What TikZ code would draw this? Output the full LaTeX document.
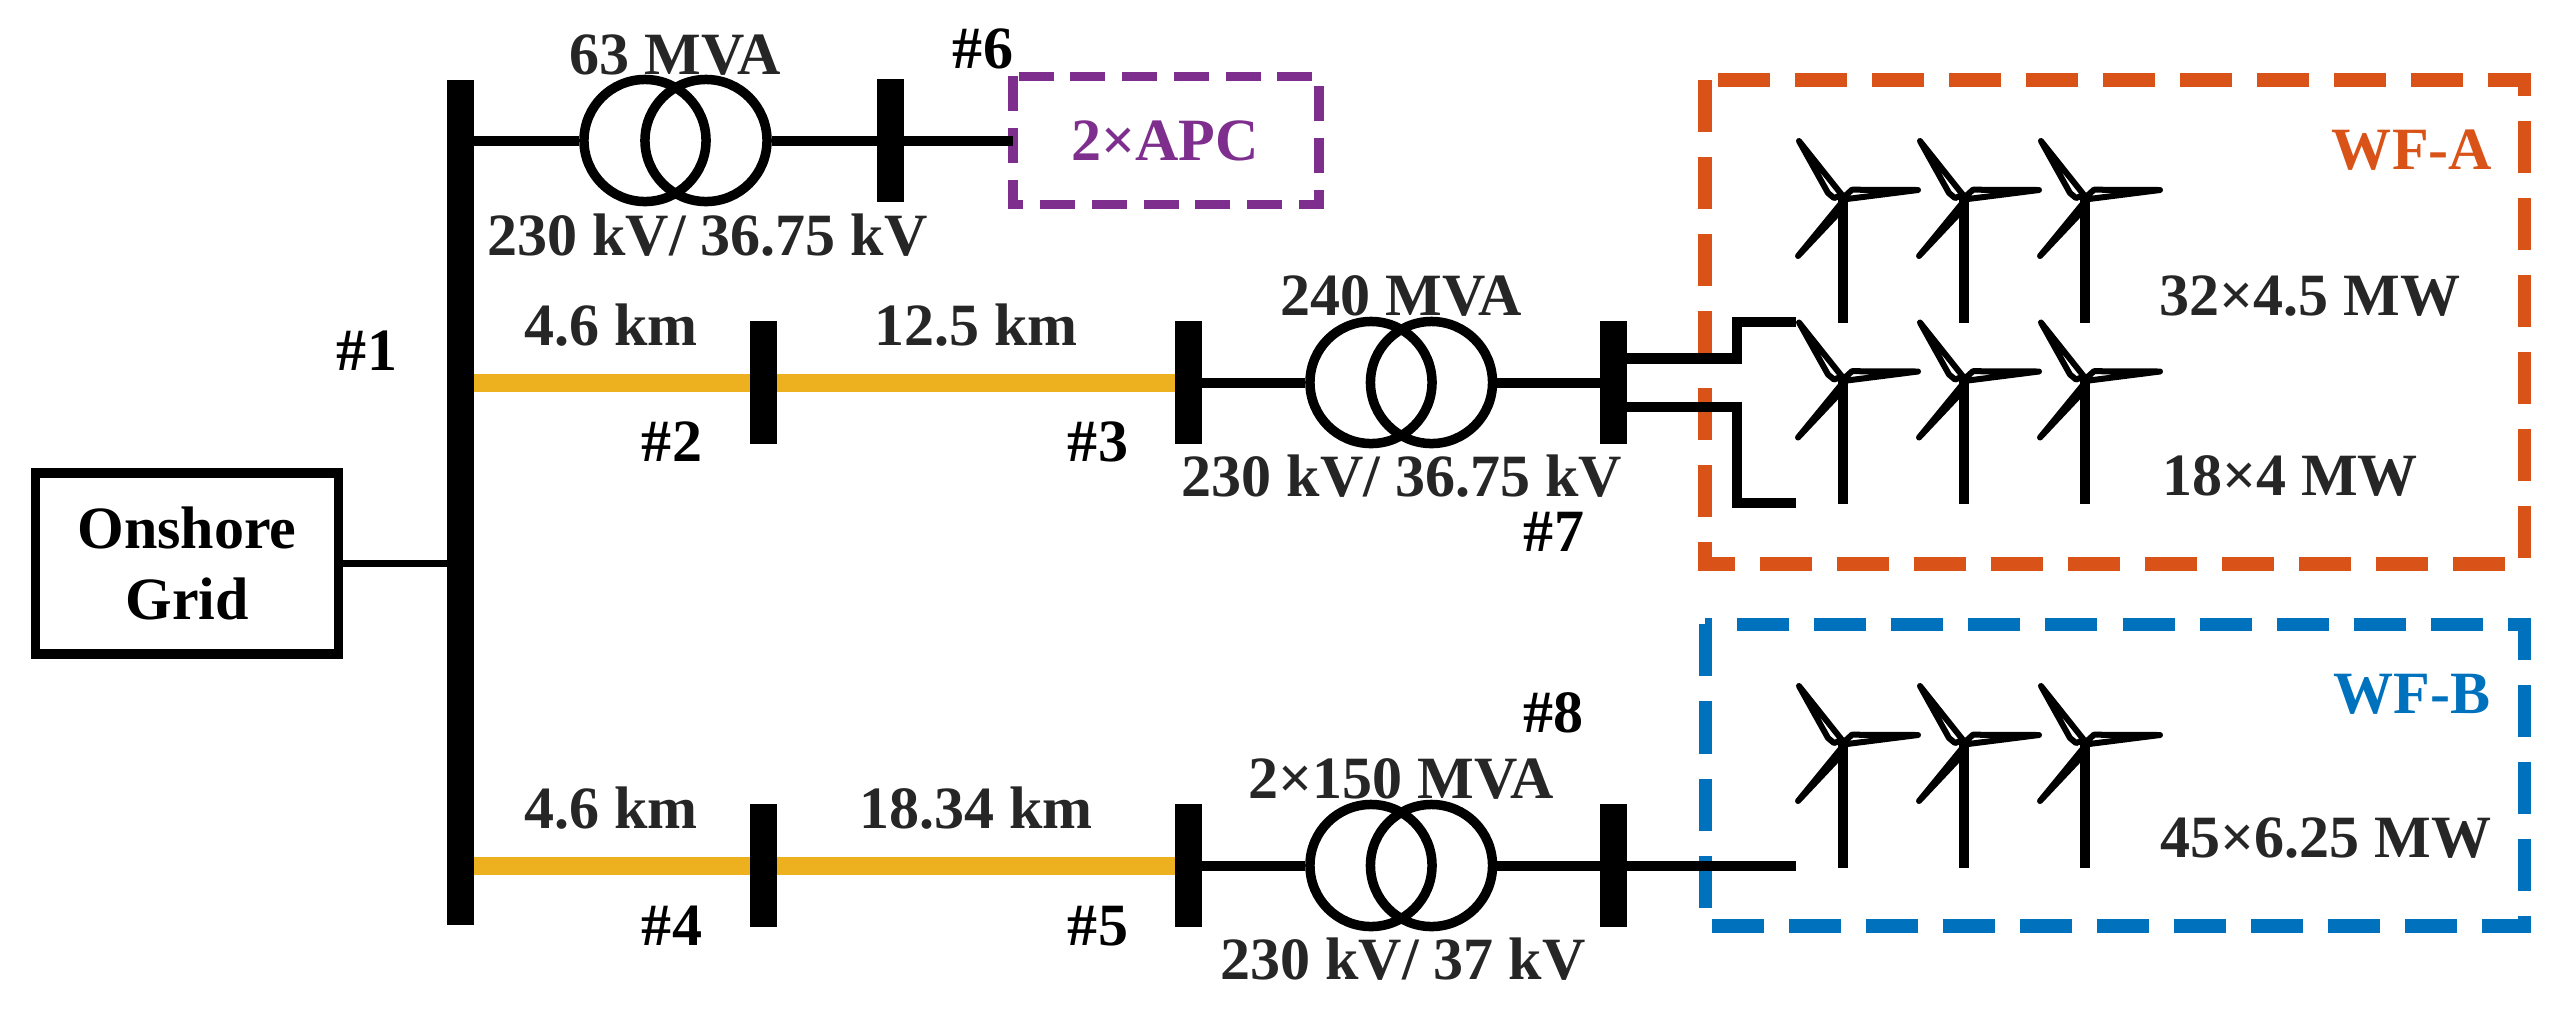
\documentclass[tikz,border=0pt]{standalone}
\usepackage{fontspec}
\usepackage{xcolor}
\setmainfont{Liberation Serif}
\definecolor{CableYellow}{RGB}{237,177,32}
\definecolor{WfOrange}{RGB}{217,83,25}
\definecolor{WfBlue}{RGB}{0,114,189}
\definecolor{ApcPurple}{RGB}{126,47,142}
\definecolor{LabelGray}{RGB}{38,38,38}
\tikzset{
  lbl/.style     = {anchor=base, inner sep=0pt, text=LabelGray,
                    font=\fontsize{17.07}{20.2}\selectfont\bfseries},
  busid/.style   = {lbl, text=black},
  busbar/.style  = {fill=black, inner sep=0pt, outer sep=0pt, minimum width=0.27cm, minimum height=1.22cm},
  tfcoil/.style  = {draw, circle, line width=0.095cm, inner sep=0pt, minimum size=1.22cm},
  feeder/.style  = {line width=0.1cm},
  cable/.style   = {line width=0.18cm, CableYellow},
  area/.style    = {inner sep=0pt, outer sep=0pt},
  wfline/.style  = {line width=0.135cm, dash pattern=on 0.52cm off 0.25cm},
  apcline/.style = {line width=0.095cm, dash pattern=on 0.35cm off 0.167cm, ApcPurple},
  pics/turbine/.style = {code={
    \draw[line width=0.093cm] (0,-2) -- (0,124.5);
    \draw[line width=0.06cm, line join=round, fill=white]
      (-1,-3) -- (-44,-57) -- (-15,-5) -- (-9,0) -- cycle
      (0,1.5) -- (75,-8) -- (9,-8.3) -- (2,-2) -- cycle
      (0,3) -- (-45,58) -- (-4.5,15) -- cycle;
  }}
}

\begin{document}
\begin{tikzpicture}[x=0.01cm,y=-0.01cm]
\useasboundingbox (0,0) rectangle (2556,1008);
\node[area,minimum width=3.06cm,minimum height=1.28cm] (apc) at (1166,140.5) {};
\node[area,minimum width=8.19cm,minimum height=4.84cm] (wfa) at (2114.5,322) {};
\node[area,minimum width=8.185cm,minimum height=3.015cm] (wfb) at (2114.75,775.25) {};
\draw[apcline] (apc.north west) -- (apc.south west) -- (apc.south east) -- (apc.north east) -- cycle;
\draw[wfline,WfOrange] (wfa.north west) -- (wfa.south west) -- (wfa.south east) -- (wfa.north east) -- cycle;
\draw[wfline,WfBlue] (wfb.north west) -- (wfb.south west) -- (wfb.south east) -- (wfb.north east) -- cycle;
\node[draw,line width=0.095cm,align=center,inner sep=0pt,minimum width=3.03cm,minimum height=1.81cm,
      font=\fontsize{17.07}{20.2}\selectfont\bfseries] (grid) at (187,563.5) {Onshore\\Grid};
\node[busbar,minimum height=8.45cm] (bus1) at (460.5,502.5) {};
\node[busbar] (bus2) at (763.5,382.5) {};
\node[busbar] (bus3) at (1188.5,382.5) {};
\node[busbar] (bus4) at (763.5,865.5) {};
\node[busbar] (bus5) at (1188.5,865.5) {};
\node[busbar] (bus6) at (890.5,140.5) {};
\node[busbar] (bus7) at (1613.5,382.5) {};
\node[busbar] (bus8) at (1613.5,865.5) {};
\node[tfcoil] (tf1a) at (645,140.5) {};
\node[tfcoil] (tf1b) at (706,140.5) {};
\node[tfcoil] (tf2a) at (1371,382.5) {};
\node[tfcoil] (tf2b) at (1431.5,382.5) {};
\node[tfcoil] (tf3a) at (1371,865.5) {};
\node[tfcoil] (tf3b) at (1431.5,865.5) {};
\coordinate (feedA1) at (1796,322);
\coordinate (feedA2) at (1796,503);
\coordinate (feedB) at (1796,865.5);
\pic at (1843,198) {turbine};
\pic at (1964,198) {turbine};
\pic at (2085,198) {turbine};
\pic at (1843,379.5) {turbine};
\pic at (1964,379.5) {turbine};
\pic at (2085,379.5) {turbine};
\pic at (1843,743) {turbine};
\pic at (1964,743) {turbine};
\pic at (2085,743) {turbine};
\draw[line width=0.067cm] (grid.east) -- (grid.east -| bus1.west);
\draw[feeder] (tf1a -| bus1.east) -- (tf1a.west);
\draw[feeder] (tf1b.east) -- (bus6.west);
\draw[feeder] (bus6.east) -- (apc.west);
\draw[cable] (bus2 -| bus1.east) -- (bus2.west);
\draw[cable] (bus2.east) -- (bus3.west);
\draw[feeder] (bus3.east) -- (tf2a.west);
\draw[feeder] (tf2b.east) -- (bus7.west);
\draw[feeder] ([yshift=2.4mm]bus7.east) -- ++(110,0) |- (feedA1);
\draw[feeder] ([yshift=-2.4mm]bus7.east) -- ++(110,0) |- (feedA2);
\draw[cable] (bus4 -| bus1.east) -- (bus4.west);
\draw[cable] (bus4.east) -- (bus5.west);
\draw[feeder] (bus5.east) -- (tf3a.west);
\draw[feeder] (tf3b.east) -- (bus8.west);
\draw[feeder] (bus8.east) -- (feedB);
\node[lbl] (mva1) at (675,74) {63 MVA};
\node[lbl] (kv1) at (707.5,255) {230 kV/ 36.75 kV};
\node[lbl,text=ApcPurple] (apctxt) at (1165,160) {2×APC};
\node[lbl] (len2) at (611,345) {4.6 km};
\node[lbl] (len3) at (976,345) {12.5 km};
\node[lbl] (mva2) at (1401,315) {240 MVA};
\node[lbl] (kv2) at (1402,496) {230 kV/ 36.75 kV};
\node[lbl] (len4) at (611,828) {4.6 km};
\node[lbl] (len5) at (976,828) {18.34 km};
\node[lbl] (mva3) at (1401,798) {2×150 MVA};
\node[lbl] (kv3) at (1403,979) {230 kV/ 37 kV};
\node[lbl] (wta1) at (2310,315) {32×4.5 MW};
\node[lbl] (wta2) at (2290,495) {18×4 MW};
\node[lbl] (wtb) at (2326,857.5) {45×6.25 MW};
\node[lbl,text=WfOrange] (wfatxt) at (2412,169) {WF-A};
\node[lbl,text=WfBlue] (wfbtxt) at (2412,713) {WF-B};
\node[busid] (id1) at (367,370.5) {\#1};
\node[busid] (id2) at (672,461.5) {\#2};
\node[busid] (id3) at (1098,461.5) {\#3};
\node[busid] (id4) at (672,945) {\#4};
\node[busid] (id5) at (1098,945) {\#5};
\node[busid] (id6) at (983,68) {\#6};
\node[busid] (id7) at (1554,551.5) {\#7};
\node[busid] (id8) at (1553.5,732.5) {\#8};
\end{tikzpicture}
\end{document}
